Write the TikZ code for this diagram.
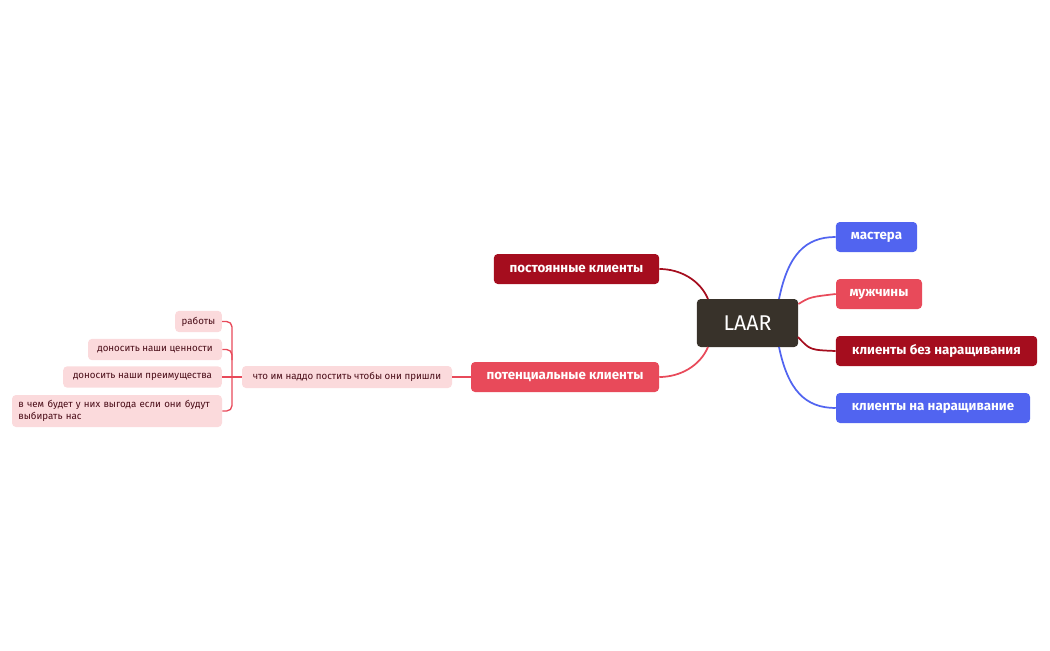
\documentclass[tikz,border=0pt]{standalone}
\usepackage{fontspec}
\setmainfont{Fira Sans}
\begin{document}
\begin{tikzpicture}[x=0.75pt,y=-0.75pt,
 box/.style={rounded corners=3pt,inner sep=0pt,font=\fontsize{10}{12}\selectfont\bfseries,text=white},
 leaf/.style={rounded corners=3pt,inner sep=0pt,fill=lf,text=lt,font=\fontsize{7.3}{9}\selectfont},
 ln/.style={line width=1.3pt}]
\definecolor{bl}{HTML}{5164F0}\definecolor{rd}{HTML}{E84A5A}\definecolor{dr}{HTML}{A50D1E}
\definecolor{lf}{HTML}{FBDADC}\definecolor{lt}{HTML}{4A0D18}\definecolor{ct}{HTML}{38322A}
\useasboundingbox (0,0) rectangle (1050,650);
\node[box,fill=ct,minimum width=76pt,minimum height=36pt,font=\fontsize{16}{18}\selectfont] (c) at (747.5,323) {LAAR};
\node[box,fill=bl,minimum width=61pt,minimum height=22.5pt] (m) at (876.5,237) {мастера};
\node[box,fill=rd,minimum width=64.5pt,minimum height=22.5pt] (mu) at (879,294) {мужчины};
\node[box,fill=dr,minimum width=151pt,minimum height=22.5pt] (b) at (936.5,351) {клиенты без наращивания};
\node[box,fill=bl,minimum width=145.5pt,minimum height=22.5pt] (n) at (933,408) {клиенты на наращивание};
\node[box,fill=dr,minimum width=124pt,minimum height=22.5pt] (p) at (576.5,269) {постоянные клиенты};
\node[box,fill=rd,minimum width=141pt,minimum height=22.5pt] (q) at (565,377) {потенциальные клиенты};
\node[leaf,minimum width=157.5pt,minimum height=16.5pt] (w) at (347,377) {что им наддо постить чтобы они пришли};
\node[leaf,minimum width=35pt,minimum height=16pt] (l1) at (198.5,321.5) {работы};
\node[leaf,minimum width=100.5pt,minimum height=16pt] (l2) at (155,349.5) {доносить наши ценности};
\node[leaf,minimum width=119pt,minimum height=16pt] (l3) at (142.5,377) {доносить наши преимущества};
\node[leaf,minimum width=157.5pt,minimum height=24pt,text width=148pt,align=left] (l4) at (117,411) {в чем будет у них выгода если они будут\\выбирать нас};
\coordinate (cm) at (779,299); \coordinate (cb) at (779,347);
\coordinate (cl) at (708,299); \coordinate (cll) at (708,347);
\draw[ln,bl] (cm) .. controls (788,255) and (805,237) .. (m.west);
\draw[ln,rd] (c.east|-mu.west) ++(0,10) .. controls (810,297) .. (mu.west);
\draw[ln,dr] (798,337) .. controls (810,350) .. (b.west);
\draw[ln,bl] (cb) .. controls (788,390) and (805,408) .. (n.west);
\draw[ln,dr] (cl) .. controls (700,280) and (680,269) .. (p.east);
\draw[ln,rd] (cll) .. controls (700,366) and (680,377) .. (q.east);
\draw[ln,rd] (q.west) -- (w.east);
\draw[ln,rd,line width=1pt] (w.west) -- (l3.east);
\draw[ln,rd,line width=1pt,rounded corners=4pt] (l1.east) -- (232,321.5) -- (232,411) -- (l4.east|-232,411);
\draw[ln,rd,line width=1pt,rounded corners=4pt] (l2.east) -- (232,349.5) -- (232,360);
\end{tikzpicture}
\end{document}
